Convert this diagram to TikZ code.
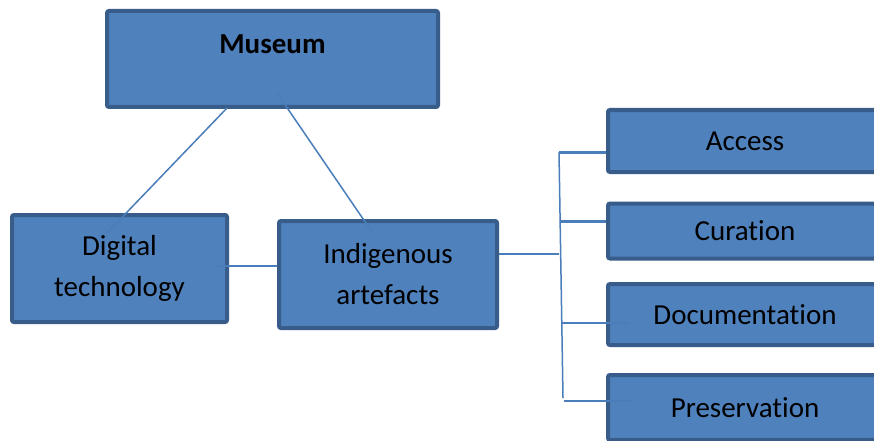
\documentclass[tikz,border=0pt]{standalone}
\usepackage{fontspec}
\setmainfont{Carlito}[Ligatures=NoCommon]
\usetikzlibrary{calc}
\definecolor{boxfill}{HTML}{4F81BD}
\definecolor{boxline}{HTML}{385D8A}
\definecolor{conn}{HTML}{4A7EBB}
\begin{document}
\begin{tikzpicture}[x=1pt,y=-1pt,
  box/.style={draw=boxline, fill=boxfill, line width=4pt, rounded corners=2pt,
    inner sep=0pt, align=center, font=\fontsize{29}{41}\selectfont},
  cline/.style={draw=conn, line width=1.5pt},
  cthick/.style={draw=conn, line width=3pt}]
\clip (0,0) rectangle (874,441);
\fill[white] (0,0) rectangle (874,441);
% boxes
\node[box, minimum width=331pt, minimum height=96pt] (museum) at (272.5,59) {};
\node[font=\bfseries\fontsize{29}{35}\selectfont, inner sep=0pt] (museumtext) at (272.5,44) {Museum};
\node[box, minimum width=215pt, minimum height=107pt] (digital) at (119.5,268.5) {Digital\\technology};
\node[box, minimum width=218pt, minimum height=107pt] (indig) at (388,274.5) {Indigenous\\artefacts};
\node[box, minimum width=274pt, minimum height=62pt] (access) at (745,141) {Access};
\node[box, minimum width=274pt, minimum height=55pt] (curation) at (745,231) {Curation};
\node[box, minimum width=274pt, minimum height=61pt] (doc) at (745,314.5) {Documentation};
\node[box, minimum width=274pt, minimum height=65pt] (pres) at (745,407.5) {Preservation};
% bracket points
\coordinate (brmid) at (559,254);
\coordinate (brtop) at (559,152);
\coordinate (brbot) at (563,398);
\coordinate (brcur) at (559.5,221);
\coordinate (brdoc) at (562,323);
\coordinate (brpres) at (564,401);
% connectors
\draw[cline] ($(museum.south)+(-45.5,-1)$) -- ($(digital.north)+(-12.5,20)$);
\draw[cline] ($(museum.center)+(4.5,34)$) -- ($(indig.north)+(-16,13)$);
\draw[cline] ($(digital.east)+(-14,-2.5)$) -- ($(indig.west)+(0,-8.5)$);
\draw[cline] ($(indig.east)+(0,-20.5)$) -- (brmid);
\draw[cline] (brtop) -- (brbot);
\draw[cthick] (brtop) -- (access.west |- brtop);
\draw[cthick] (brcur) -- (curation.west |- brcur);
\draw[cline] (brdoc) -- ($(doc.west |- brdoc)+(22,0)$);
\draw[cline] (brpres) -- ($(pres.west |- brpres)+(26,0)$);
\end{tikzpicture}
\end{document}
